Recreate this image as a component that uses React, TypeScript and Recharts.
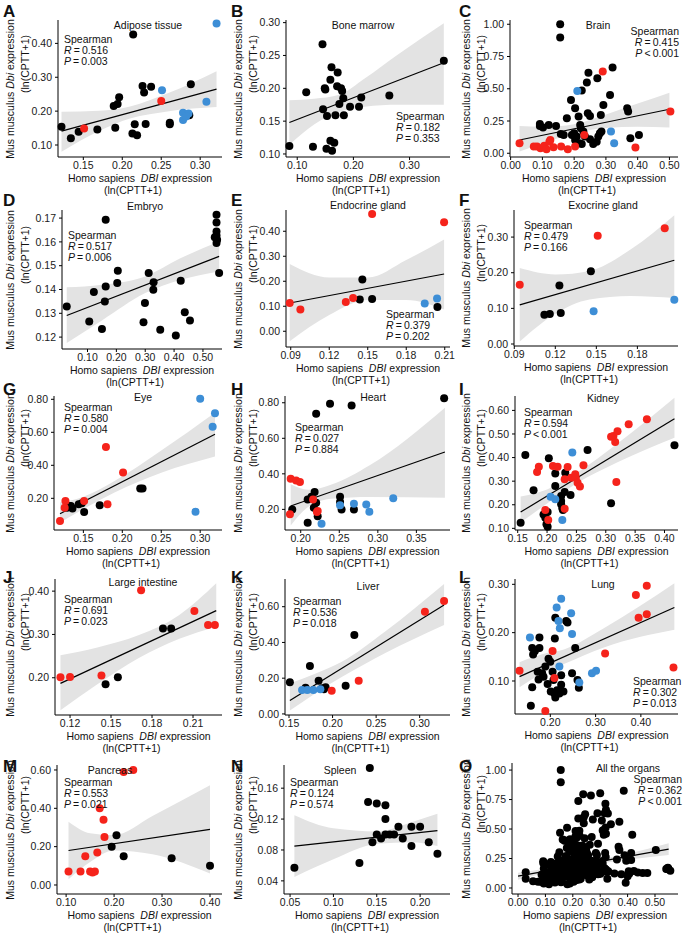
import React from 'react'
import { ComposedChart, Scatter, Area, XAxis, YAxis, ReferenceLine } from 'recharts'

type P = [number, number]

// --- point data (x: Homo sapiens DBI, y: Mus musculus Dbi) ---
const adiposeBlack: P[] = [[0.122,0.154],[0.134,0.120],[0.144,0.139],[0.168,0.146],[0.189,0.215],[0.194,0.221],[0.196,0.241],[0.191,0.151],[0.214,0.426],[0.213,0.134],[0.219,0.129],[0.216,0.161],[0.230,0.162],[0.226,0.274],[0.228,0.255],[0.237,0.272],[0.261,0.166],[0.261,0.161],[0.288,0.279],[0.286,0.188]]
const adiposeRed: P[] = [[0.151,0.149],[0.250,0.230]]
const adiposeBlue: P[] = [[0.251,0.262],[0.308,0.228],[0.321,0.459],[0.278,0.195],[0.285,0.193],[0.278,0.174],[0.282,0.184]]

const boneBlack: P[] = [[0.086,0.112],[0.116,0.194],[0.128,0.111],[0.145,0.267],[0.146,0.168],[0.149,0.200],[0.150,0.198],[0.152,0.108],[0.153,0.158],[0.159,0.213],[0.161,0.232],[0.159,0.120],[0.162,0.105],[0.166,0.117],[0.168,0.159],[0.171,0.203],[0.172,0.224],[0.175,0.176],[0.178,0.200],[0.180,0.196],[0.182,0.185],[0.183,0.159],[0.194,0.172],[0.210,0.172],[0.214,0.186],[0.264,0.189],[0.361,0.242]]

const brainBlack: P[] = [[0.156,1.00],[0.156,0.897],[0.092,0.227],[0.092,0.212],[0.102,0.199],[0.120,0.220],[0.143,0.212],[0.158,0.150],[0.167,0.142],[0.177,0.271],[0.190,0.413],[0.203,0.349],[0.200,0.155],[0.193,0.142],[0.208,0.129],[0.214,0.284],[0.219,0.220],[0.224,0.486],[0.221,0.194],[0.229,0.168],[0.234,0.129],[0.217,0.078],[0.224,0.072],[0.240,0.548],[0.245,0.625],[0.243,0.310],[0.250,0.289],[0.260,0.072],[0.271,0.090],[0.273,0.581],[0.281,0.155],[0.284,0.297],[0.292,0.375],[0.286,0.168],[0.276,0.129],[0.313,0.452],[0.321,0.664],[0.367,0.349],[0.370,0.323],[0.377,0.116],[0.404,0.142],[0.250,0.109],[0.203,0.103]]
const brainRed: P[] = [[0.028,0.078],[0.083,0.052],[0.094,0.039],[0.106,0.059],[0.113,0.031],[0.122,0.090],[0.125,0.103],[0.135,0.047],[0.159,0.052],[0.180,0.031],[0.203,0.052],[0.232,0.142],[0.290,0.633],[0.393,0.044],[0.503,0.323],[0.073,0.052]]
const brainBlue: P[] = [[0.210,0.483],[0.316,0.168],[0.326,0.078]]

const embryoBlack: P[] = [[0.028,0.1329],[0.106,0.1266],[0.122,0.1389],[0.150,0.1234],[0.163,0.1693],[0.163,0.1413],[0.160,0.1350],[0.203,0.1427],[0.205,0.1479],[0.294,0.1262],[0.299,0.1343],[0.312,0.1469],[0.328,0.1399],[0.329,0.1430],[0.352,0.1231],[0.406,0.1207],[0.423,0.1437],[0.437,0.1304],[0.455,0.1270],[0.547,0.1714],[0.547,0.1682],[0.547,0.1644],[0.547,0.1627],[0.541,0.1620],[0.549,0.1609],[0.547,0.1595],[0.556,0.1469]]

const endocrineBlack: P[] = [[0.1438,0.127],[0.1458,0.207],[0.1534,0.129],[0.2043,0.097]]
const endocrineRed: P[] = [[0.0892,0.113],[0.0975,0.087],[0.1329,0.117],[0.1386,0.133],[0.1534,0.469],[0.2095,0.436]]
const endocrineBlue: P[] = [[0.1944,0.111],[0.2040,0.131]]

const exocrineBlack: P[] = [[0.112,0.082],[0.116,0.084],[0.123,0.164],[0.124,0.087],[0.146,0.204]]
const exocrineRed: P[] = [[0.094,0.166],[0.151,0.304],[0.200,0.325]]
const exocrineBlue: P[] = [[0.148,0.092],[0.207,0.124]]

const eyeBlack: P[] = [[0.129,0.143],[0.132,0.154],[0.136,0.139],[0.144,0.164],[0.148,0.170],[0.151,0.117],[0.171,0.158],[0.223,0.259],[0.226,0.259],[0.134,0.154]]
const eyeRed: P[] = [[0.120,0.063],[0.127,0.184],[0.179,0.511],[0.201,0.356],[0.181,0.164],[0.151,0.184],[0.126,0.143]]
const eyeBlue: P[] = [[0.300,0.804],[0.319,0.715],[0.316,0.634],[0.294,0.119]]

const heartBlack: P[] = [[0.220,0.738],[0.238,0.795],[0.266,0.785],[0.386,0.825],[0.189,0.200],[0.209,0.256],[0.214,0.271],[0.218,0.298],[0.217,0.209],[0.209,0.125],[0.222,0.162],[0.251,0.271],[0.251,0.241],[0.253,0.200],[0.269,0.200],[0.220,0.238]]
const heartRed: P[] = [[0.187,0.373],[0.194,0.363],[0.199,0.354],[0.186,0.172],[0.216,0.256],[0.222,0.191],[0.221,0.185]]
const heartBlue: P[] = [[0.227,0.119],[0.251,0.223],[0.269,0.232],[0.285,0.228],[0.289,0.187],[0.320,0.262]]

const kidneyBlack: P[] = [[0.155,0.124],[0.163,0.411],[0.177,0.261],[0.194,0.159],[0.197,0.145],[0.201,0.169],[0.199,0.117],[0.201,0.107],[0.203,0.397],[0.214,0.333],[0.214,0.279],[0.224,0.237],[0.224,0.202],[0.226,0.185],[0.227,0.178],[0.230,0.254],[0.231,0.336],[0.240,0.241],[0.269,0.432],[0.309,0.206],[0.417,0.452],[0.224,0.216]]
const kidneyRed: P[] = [[0.183,0.339],[0.186,0.361],[0.210,0.364],[0.218,0.361],[0.235,0.360],[0.230,0.308],[0.241,0.315],[0.248,0.329],[0.249,0.315],[0.252,0.293],[0.256,0.277],[0.262,0.367],[0.309,0.488],[0.313,0.491],[0.320,0.512],[0.316,0.466],[0.339,0.541],[0.370,0.562],[0.318,0.296],[0.197,0.178],[0.202,0.135],[0.230,0.183]]
const kidneyBlue: P[] = [[0.243,0.421],[0.206,0.234],[0.214,0.223],[0.226,0.135]]

const intestineBlack: P[] = [[0.146,0.185],[0.155,0.201],[0.188,0.314],[0.194,0.314]]
const intestineRed: P[] = [[0.113,0.201],[0.120,0.202],[0.143,0.205],[0.172,0.402],[0.211,0.354],[0.221,0.322],[0.226,0.322]]

const liverBlack: P[] = [[0.151,0.177],[0.169,0.147],[0.174,0.268],[0.184,0.186],[0.188,0.144],[0.192,0.149],[0.215,0.157],[0.225,0.442],[0.190,0.138]]
const liverRed: P[] = [[0.199,0.130],[0.230,0.185],[0.306,0.572],[0.328,0.632]]
const liverBlue: P[] = [[0.165,0.134],[0.171,0.134],[0.178,0.134],[0.186,0.138]]

const lungBlack: P[] = [[0.160,0.168],[0.162,0.155],[0.176,0.190],[0.176,0.168],[0.166,0.162],[0.172,0.119],[0.174,0.103],[0.182,0.116],[0.185,0.109],[0.160,0.087],[0.157,0.049],[0.196,0.146],[0.200,0.140],[0.205,0.119],[0.207,0.102],[0.194,0.094],[0.201,0.078],[0.209,0.074],[0.215,0.081],[0.222,0.081],[0.220,0.074],[0.224,0.092],[0.229,0.078],[0.211,0.231],[0.210,0.188],[0.235,0.224],[0.238,0.221],[0.248,0.116],[0.255,0.168],[0.260,0.102],[0.263,0.086],[0.211,0.066],[0.224,0.112],[0.189,0.130]]
const lungRed: P[] = [[0.132,0.121],[0.205,0.162],[0.209,0.106],[0.189,0.038],[0.321,0.157],[0.389,0.278],[0.395,0.231],[0.413,0.238],[0.413,0.297],[0.472,0.128]]
const lungBlue: P[] = [[0.155,0.190],[0.214,0.252],[0.224,0.270],[0.218,0.224],[0.221,0.209],[0.246,0.240],[0.248,0.197],[0.220,0.130],[0.292,0.116],[0.301,0.121],[0.264,0.097]]

const pancreasBlack: P[] = [[0.195,0.20],[0.205,0.26],[0.22,0.15],[0.32,0.14],[0.40,0.10]]
const pancreasRed: P[] = [[0.105,0.07],[0.13,0.07],[0.14,0.15],[0.15,0.07],[0.155,0.065],[0.16,0.07],[0.165,0.17],[0.17,0.40],[0.178,0.34],[0.18,0.25],[0.22,0.59],[0.24,0.60]]

const spleenBlack: P[] = [[0.055,0.057],[0.142,0.186],[0.140,0.142],[0.150,0.140],[0.160,0.138],[0.160,0.120],[0.145,0.090],[0.150,0.100],[0.155,0.095],[0.160,0.100],[0.165,0.100],[0.170,0.100],[0.175,0.110],[0.180,0.095],[0.190,0.110],[0.200,0.110],[0.210,0.090],[0.220,0.075],[0.130,0.063],[0.190,0.085]]

// --- fitted line [x0, y0, x1, y1] and 95% band [x, lower, upper] ---
const adiposeFit = [0.122, 0.141, 0.321, 0.265]
const adiposeBand = [[0.122,0.080,0.198],[0.17,0.141,0.201],[0.21,0.178,0.214],[0.26,0.200,0.254],[0.321,0.212,0.318]]
const boneFit = [0.086, 0.148, 0.361, 0.239]
const boneBand = [[0.086,0.114,0.182],[0.13,0.145,0.184],[0.175,0.164,0.190],[0.22,0.172,0.215],[0.28,0.175,0.252],[0.361,0.175,0.299]]
const brainFit = [0.028, 0.103, 0.50, 0.341]
const brainBand = [[0.028,0.013,0.212],[0.10,0.075,0.205],[0.20,0.155,0.225],[0.30,0.195,0.300],[0.40,0.205,0.385],[0.50,0.200,0.470]]
const embryoFit = [0.028, 0.1291, 0.556, 0.1539]
const embryoBand = [[0.028,0.1175,0.1409],[0.15,0.1270,0.1420],[0.30,0.1385,0.1455],[0.42,0.1440,0.1530],[0.556,0.1476,0.1602]]
const endocrineFit = [0.0892, 0.113, 0.2095, 0.229]
const endocrineBand = [[0.0892,-0.040,0.269],[0.12,0.065,0.215],[0.15,0.125,0.215],[0.18,0.125,0.285],[0.2095,0.087,0.367]]
const exocrineFit = [0.094, 0.110, 0.207, 0.235]
const exocrineBand = [[0.094,0.007,0.213],[0.12,0.085,0.195],[0.145,0.125,0.205],[0.175,0.135,0.265],[0.207,0.129,0.361]]
const eyeFit = [0.120, 0.107, 0.319, 0.588]
const eyeBand = [[0.120,0.053,0.174],[0.15,0.135,0.210],[0.19,0.235,0.305],[0.25,0.355,0.490],[0.319,0.453,0.719]]
const heartFit = [0.187, 0.219, 0.387, 0.523]
const heartBand = [[0.187,0.110,0.341],[0.21,0.215,0.310],[0.24,0.260,0.340],[0.29,0.270,0.450],[0.387,0.266,0.772]]
const kidneyFit = [0.155, 0.169, 0.417, 0.565]
const kidneyBand = [[0.155,0.125,0.235],[0.20,0.205,0.265],[0.25,0.290,0.335],[0.32,0.380,0.460],[0.417,0.484,0.654]]
const intestineFit = [0.113, 0.187, 0.227, 0.355]
const intestineBand = [[0.113,0.125,0.252],[0.14,0.185,0.270],[0.17,0.245,0.298],[0.20,0.290,0.345],[0.227,0.318,0.418]]
const liverFit = [0.151, 0.075, 0.328, 0.610]
const liverBand = [[0.151,0.019,0.171],[0.18,0.115,0.225],[0.21,0.205,0.290],[0.26,0.340,0.460],[0.328,0.498,0.727]]
const lungFit = [0.132, 0.109, 0.474, 0.252]
const lungBand = [[0.132,0.087,0.139],[0.18,0.115,0.155],[0.23,0.135,0.165],[0.32,0.170,0.210],[0.474,0.206,0.302]]
const pancreasFit = [0.105, 0.18, 0.40, 0.29]
const pancreasBand = [[0.105,0.03,0.33],[0.15,0.12,0.27],[0.20,0.18,0.26],[0.28,0.16,0.36],[0.40,0.06,0.52]]
const spleenFit = [0.055, 0.085, 0.22, 0.105]
const spleenBand = [[0.055,0.045,0.125],[0.10,0.068,0.108],[0.15,0.088,0.104],[0.19,0.090,0.116],[0.22,0.085,0.127]]
const allFit = [0.0, 0.10, 0.55, 0.33]
const allBand = [[0.0,0.07,0.13],[0.15,0.15,0.18],[0.25,0.19,0.22],[0.40,0.24,0.29],[0.55,0.28,0.38]]

const organs = ['Adipose tissue', 'Bone marrow', 'Brain', 'Embryo', 'Endocrine gland', 'Exocrine gland', 'Eye', 'Heart', 'Kidney', 'Large intestine', 'Liver', 'Lung', 'Pancreas', 'Spleen', 'All the organs']
const letters = ['A','B','C','D','E','F','G','H','I','J','K','L','M','N','O']
const spearmanR = ['0.516','0.182','0.415','0.517','0.379','0.479','0.580','0.027','0.594','0.691','0.536','0.302','0.553','0.124','0.362']
const spearmanP = ['= 0.003','= 0.353','< 0.001','= 0.006','= 0.202','= 0.166','= 0.004','= 0.884','< 0.001','= 0.023','= 0.018','= 0.013','= 0.021','= 0.574','< 0.001']

const xTicks = [
  [0.15,0.20,0.25,0.30],[0.10,0.20,0.30],[0,0.1,0.2,0.3,0.4,0.5],
  [0.1,0.2,0.3,0.4,0.5],[0.09,0.12,0.15,0.18,0.21],[0.09,0.12,0.15,0.18],
  [0.15,0.20,0.25,0.30],[0.20,0.25,0.30,0.35],[0.15,0.20,0.25,0.30,0.35,0.40],
  [0.12,0.15,0.18,0.21],[0.15,0.20,0.25,0.30],[0.2,0.3,0.4],
  [0.1,0.2,0.3,0.4],[0.05,0.10,0.15,0.20],[0,0.1,0.2,0.3,0.4,0.5],
]
const yTicks = [
  [0.1,0.2,0.3,0.4],[0.10,0.15,0.20,0.25,0.30],[0,0.25,0.5,0.75,1],
  [0.12,0.13,0.14,0.15,0.16,0.17],[0,0.1,0.2,0.3,0.4],[0,0.1,0.2,0.3],
  [0.2,0.4,0.6,0.8],[0.2,0.4,0.6,0.8],[0.1,0.2,0.3,0.4,0.5,0.6],
  [0.2,0.3,0.4],[0,0.2,0.4,0.6],[0.1,0.2,0.3],
  [0,0.2,0.4,0.6],[0.04,0.08,0.12,0.16],[0,0.25,0.5,0.75,1],
]

const series: { black: P[]; red: P[]; blue: P[]; fit: number[]; band: number[][] }[] = [
  { black: adiposeBlack, red: adiposeRed, blue: adiposeBlue, fit: adiposeFit, band: adiposeBand },
  { black: boneBlack, red: [], blue: [], fit: boneFit, band: boneBand },
  { black: brainBlack, red: brainRed, blue: brainBlue, fit: brainFit, band: brainBand },
  { black: embryoBlack, red: [], blue: [], fit: embryoFit, band: embryoBand },
  { black: endocrineBlack, red: endocrineRed, blue: endocrineBlue, fit: endocrineFit, band: endocrineBand },
  { black: exocrineBlack, red: exocrineRed, blue: exocrineBlue, fit: exocrineFit, band: exocrineBand },
  { black: eyeBlack, red: eyeRed, blue: eyeBlue, fit: eyeFit, band: eyeBand },
  { black: heartBlack, red: heartRed, blue: heartBlue, fit: heartFit, band: heartBand },
  { black: kidneyBlack, red: kidneyRed, blue: kidneyBlue, fit: kidneyFit, band: kidneyBand },
  { black: intestineBlack, red: intestineRed, blue: [], fit: intestineFit, band: intestineBand },
  { black: liverBlack, red: liverRed, blue: liverBlue, fit: liverFit, band: liverBand },
  { black: lungBlack, red: lungRed, blue: lungBlue, fit: lungFit, band: lungBand },
  { black: pancreasBlack, red: pancreasRed, blue: [], fit: pancreasFit, band: pancreasBand },
  { black: spleenBlack, red: [], blue: [], fit: spleenFit, band: spleenBand },
]
// panel O pools every organ
const allPoints: P[] = series.flatMap((s) => [...s.black, ...s.red, ...s.blue])
series.push({ black: allPoints, red: [], blue: [], fit: allFit, band: allBand })

// layout per panel: plot left/top/bottom, domains, title + stats positions
type Layout = { l: number; t: number; b: number; xd: [number, number]; yd: [number, number]; title: [number, number]; stat: [number, number]; right?: boolean }
const layout: Layout[] = [
  { l: 58, t: 20, b: 157, xd: [0.1175, 0.328], yd: [0.0646, 0.469], title: [148, 25], stat: [64, 40] },
  { l: 58, t: 20, b: 157, xd: [0.080, 0.372], yd: [0.0954, 0.304], title: [135, 25], stat: [168, 117] },
  { l: 54, t: 20, b: 157, xd: [-0.002, 0.527], yd: [-0.029, 1.033], title: [142, 25], stat: [223, 32], right: true },
  { l: 62, t: 21, b: 160, xd: [0.0116, 0.566], yd: [0.1150, 0.1734], title: [145, 17], stat: [68, 47] },
  { l: 58, t: 21, b: 158, xd: [0.0863, 0.2141], yd: [-0.063, 0.485], title: [140, 16], stat: [158, 126] },
  { l: 58, t: 21, b: 157, xd: [0.0898, 0.2097], yd: [-0.0056, 0.376], title: [147, 16], stat: [68, 37] },
  { l: 54, t: 18, b: 152, xd: [0.1123, 0.328], yd: [0.008, 0.82], title: [143, 19], stat: [64, 30] },
  { l: 57, t: 18, b: 152, xd: [0.1796, 0.3936], yd: [0.084, 0.838], title: [145, 19], stat: [67, 50] },
  { l: 59, t: 18, b: 152, xd: [0.1454, 0.423], yd: [0.093, 0.661], title: [147, 20], stat: [68, 35] },
  { l: 55, t: 13, b: 149, xd: [0.109, 0.2312], yd: [0.114, 0.428], title: [143, 16], stat: [64, 34] },
  { l: 57, t: 13, b: 149, xd: [0.1454, 0.3348], yd: [-0.006, 0.755], title: [140, 20], stat: [65, 36] },
  { l: 59, t: 13, b: 148, xd: [0.122, 0.482], yd: [0.0317, 0.311], title: [147, 18], stat: [177, 116] },
  { l: 57, t: 10, b: 139, xd: [0.081, 0.425], yd: [-0.047, 0.626], title: [110, 15], stat: [64, 28] },
  { l: 56, t: 10, b: 139, xd: [0.043, 0.2345], yd: [0.023, 0.19], title: [112, 15], stat: [62, 28] },
  { l: 56, t: 8, b: 139, xd: [-0.022, 0.584], yd: [-0.051, 1.06], title: [172, 13], stat: [226, 25], right: true },
]

const W = 228
const H = 189
const RIGHT = 222
const ROW_Y = [0, 189, 378, 566, 755]
const RED = '#f5231b'
const BLUE = '#3d8ed6'
const FONT = '"Liberation Sans", Arial, Helvetica, sans-serif'
const TICK = { fill: '#1a1a1a', fontSize: 10.5, fontFamily: FONT }

const f2 = (v: number) => v.toFixed(2)
const toObj = (pts: P[]) => pts.map(([x, y]) => ({ x, y }))
const dot = (color: string) => (props: any) => <circle cx={props.cx} cy={props.cy} r={4} fill={color} />

function Txt({ x, y, rot, children }: { x: number; y: number; rot?: boolean; children: React.ReactNode }) {
  return (
    <div style={{ position: 'absolute', left: x, top: y, whiteSpace: 'nowrap', lineHeight: 1, fontSize: 10.5,
      transform: `translate(-50%,-50%)${rot ? ' rotate(-90deg)' : ''}` }}>
      {children}
    </div>
  )
}

function Panel({ i }: { i: number }) {
  const s = series[i]
  const L = layout[i]
  const col = i % 3
  const row = Math.floor(i / 3)
  const bandRows = s.band.map(([x, lo, hi]) => ({ x, band: [lo, hi] }))
  const midY = (L.t + L.b) / 2
  const midX = (L.l + RIGHT) / 2
  const [fx0, fy0, fx1, fy1] = s.fit
  const statStyle: React.CSSProperties = L.right
    ? { position: 'absolute', right: W - L.stat[0], top: L.stat[1] - 6, textAlign: 'right' }
    : { position: 'absolute', left: L.stat[0], top: L.stat[1] - 6 }
  const groups: [P[], string][] = [[s.black, '#000'], [s.red, RED], [s.blue, BLUE]]
  return (
    <div style={{ position: 'absolute', left: col * W, top: ROW_Y[row], width: W, height: H }}>
      <ComposedChart width={W} height={H} data={bandRows} margin={{ top: L.t, right: W - RIGHT, bottom: 0, left: 0 }}>
        <XAxis type="number" dataKey="x" domain={L.xd} ticks={xTicks[i]} tickFormatter={f2} height={H - L.b}
          tick={TICK} tickSize={3} tickMargin={2} axisLine={{ stroke: '#000' }} tickLine={{ stroke: '#000' }} interval={0} />
        <YAxis type="number" domain={L.yd} ticks={yTicks[i]} tickFormatter={f2} width={L.l}
          tick={TICK} tickSize={3} tickMargin={3} axisLine={{ stroke: '#000' }} tickLine={{ stroke: '#000' }} interval={0} />
        <Area dataKey="band" type="monotone" fill="#e3e3e3" fillOpacity={1} stroke="none" isAnimationActive={false} />
        {groups.filter(([pts]) => pts.length > 0).map(([pts, color]) => (
          <Scatter key={color} data={toObj(pts)} dataKey="y" shape={dot(color)} isAnimationActive={false} />
        ))}
        <ReferenceLine segment={[{ x: fx0, y: fy0 }, { x: fx1, y: fy1 }]} stroke="#000" strokeWidth={1.2} />
      </ComposedChart>

      <div style={{ position: 'absolute', left: 3, top: 3, fontSize: 17, fontWeight: 'bold', lineHeight: 1 }}>{letters[i]}</div>
      <Txt x={L.title[0]} y={L.title[1]}>{organs[i]}</Txt>
      <div style={{ ...statStyle, fontSize: 10.5, lineHeight: '11px', whiteSpace: 'nowrap' }}>
        <div>Spearman</div>
        <div><i>R</i>{'\u2009=\u2009'}{spearmanR[i]}</div>
        <div><i>P</i>{'\u2009' + spearmanP[i].replace(' ', '\u2009')}</div>
      </div>

      <Txt x={10} y={midY} rot>Mus musculus <i>Dbi</i> expression</Txt>
      <Txt x={25} y={midY - 25} rot>(ln(CPTT+1)</Txt>
      <Txt x={midX} y={L.b + 21}>Homo sapiens&nbsp; <i>DBI</i> expression</Txt>
      <Txt x={midX - 7} y={L.b + 33}>(ln(CPTT+1)</Txt>
    </div>
  )
}

export default function App() {
  return (
    <div style={{ position: 'absolute', left: 0, top: 0, width: 685, height: 946, background: '#fff', fontFamily: FONT, color: '#111', overflow: 'hidden' }}>
      <style>{'.recharts-surface{overflow:visible}'}</style>
      {series.map((_, i) => <Panel key={i} i={i} />)}
    </div>
  )
}
